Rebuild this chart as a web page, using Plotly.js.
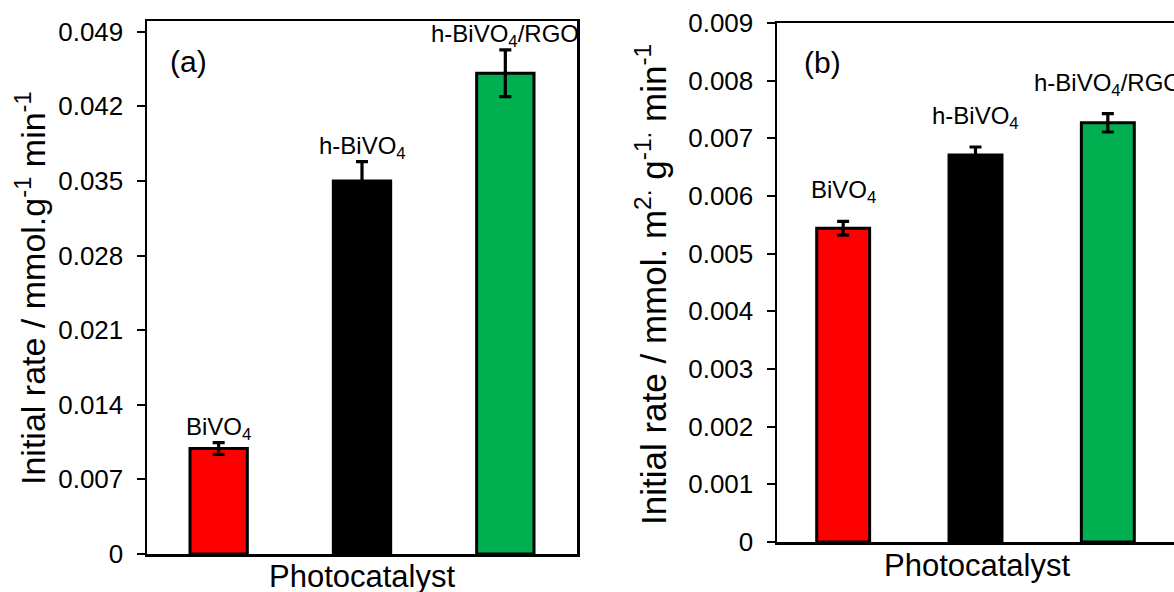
<!DOCTYPE html>
<html>
<head>
<meta charset="utf-8">
<script src="https://cdn.plot.ly/plotly-3.0.1.min.js"></script>
<style>html,body{margin:0;padding:0;background:#fff;}#chart{width:1174px;height:592px;}</style>
</head>
<body>
<div id="chart"></div>
<script>
// ---- data ----
const categories = ['BiVO4', 'h-BiVO4', 'h-BiVO4/RGO'];
const barLabels = ['BiVO<sub>4</sub>', 'h-BiVO<sub>4</sub>', 'h-BiVO<sub>4</sub>/RGO'];
const barColors = ['#FF0000', '#000000', '#00B050'];
const rateA = [0.0099, 0.0350, 0.0451];
const errA = [0.00055, 0.0018, 0.0022];
const rateB = [0.00544, 0.00671, 0.00727];
const errB = [0.00012, 0.00014, 0.00016];
const tickValsA = [0, 0.007, 0.014, 0.021, 0.028, 0.035, 0.042, 0.049];
const tickTextA = ['0', '0.007', '0.014', '0.021', '0.028', '0.035', '0.042', '0.049'];
const tickValsB = [0, 0.001, 0.002, 0.003, 0.004, 0.005, 0.006, 0.007, 0.008, 0.009];
const tickTextB = ['0', '0.001', '0.002', '0.003', '0.004', '0.005', '0.006', '0.007', '0.008', '0.009'];

// ---- layout helpers ----
const W = 1174, H = 592;
const px = v => v / W;
const py = v => 1 - v / H;
const FONT = 'Liberation Sans, Arial, sans-serif';

function barTrace(vals, errs, xa, ya) {
  return {
    type: 'bar', x: categories, y: vals, xaxis: xa, yaxis: ya,
    width: 0.4,
    marker: { color: barColors, line: { color: '#000', width: 3 } },
    error_y: { type: 'data', array: errs, visible: true, color: '#000', thickness: 3.2, width: 6 },
    hoverinfo: 'none', showlegend: false
  };
}

const data = [barTrace(rateA, errA, 'x', 'y'), barTrace(rateB, errB, 'x2', 'y2')];

const axisCommon = {
  showline: true, linecolor: '#000', linewidth: 2.5, mirror: true,
  showgrid: false, zeroline: false, fixedrange: true
};

const tickFont = { size: 26, family: FONT, color: '#000' };

const layout = {
  width: W, height: H,
  margin: { l: 0, r: 0, t: 0, b: 0 },
  paper_bgcolor: '#fff', plot_bgcolor: '#fff',
  font: { family: FONT, color: '#000' },
  showlegend: false,
  xaxis: Object.assign({}, axisCommon, {
    domain: [px(147), px(577)], range: [-0.5, 2.5], type: 'category',
    showticklabels: false, ticks: '', anchor: 'y'
  }),
  yaxis: Object.assign({}, axisCommon, {
    domain: [py(554), py(21)], range: [0, 0.05], anchor: 'x',
    tickvals: tickValsA, ticktext: tickTextA, ticks: 'outside', ticklen: 8,
    tickwidth: 2, tickcolor: '#000', tickfont: tickFont,
    ticklabelstandoff: 8
  }),
  xaxis2: Object.assign({}, axisCommon, {
    domain: [px(777), 1], range: [-0.5, 2.5], type: 'category',
    showticklabels: false, ticks: '', anchor: 'y2'
  }),
  yaxis2: Object.assign({}, axisCommon, {
    domain: [py(542), py(23)], range: [0, 0.009], anchor: 'x2',
    tickvals: tickValsB, ticktext: tickTextB, ticks: 'outside', ticklen: 8,
    tickwidth: 2, tickcolor: '#000', tickfont: tickFont,
    ticklabelstandoff: 8
  }),
  annotations: []
};

// bar labels sitting above error bars
categories.forEach((c, i) => {
  layout.annotations.push({
    xref: 'x', yref: 'y', x: c, y: rateA[i] + errA[i], yanchor: 'bottom', xanchor: 'center',
    text: barLabels[i], showarrow: false, font: { size: 24, family: FONT, color: '#000' }, yshift: -3
  });
  layout.annotations.push({
    xref: 'x2', yref: 'y2', x: c, y: rateB[i] + errB[i], yanchor: 'bottom', xanchor: 'center',
    text: barLabels[i], showarrow: false, font: { size: 24, family: FONT, color: '#000' }, yshift: 12
  });
});

const textAnn = (text, x, y, size, angle) => ({
  xref: 'paper', yref: 'paper', x: px(x), y: py(y), xanchor: 'center', yanchor: 'middle',
  text: text, showarrow: false, textangle: angle || 0, font: { size: size, family: FONT, color: '#000' }
});

layout.annotations.push(textAnn('(a)', 188, 62, 30));
layout.annotations.push(textAnn('(b)', 822, 63, 30));
layout.annotations.push(textAnn('Photocatalyst', 362, 576, 31));
layout.annotations.push(textAnn('Photocatalyst', 977, 565, 31));
layout.annotations.push(textAnn('Initial rate / mmol.g<sup>-1</sup> min<sup>-1</sup>', 30, 288, 34, -90));
layout.annotations.push(textAnn('Initial rate / mmol. m<sup>2.</sup> g<sup>-1.</sup> min<sup>-1</sup>', 651, 285, 35, -90));

Plotly.newPlot('chart', data, layout, { staticPlot: true, displayModeBar: false });
</script>
</body>
</html>
